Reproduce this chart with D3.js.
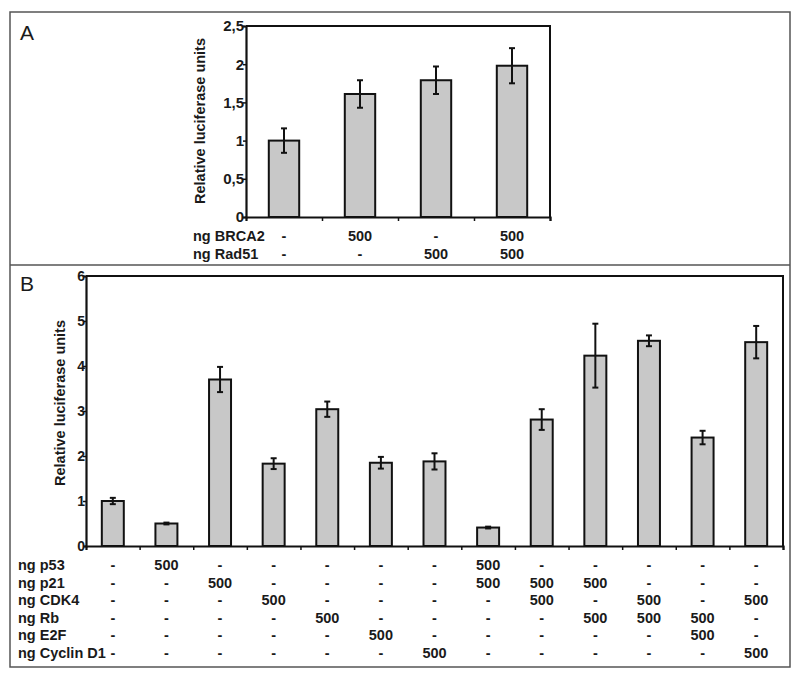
<!DOCTYPE html>
<html><head><meta charset="utf-8">
<script src="https://cdn.jsdelivr.net/npm/d3@7"></script>
<style>body{margin:0;background:#fff}svg{display:block}text{font-family:"Liberation Sans",Arial,sans-serif;fill:#1a1a1a}</style>
</head><body><svg id="c" width="800" height="677"></svg>
<script>
// Panel A data
const catsA = ["c1","c2","c3","c4"];
const valuesA = [1.00, 1.61, 1.79, 1.98];
const errA = [0.16, 0.18, 0.18, 0.23];
const ticksA = [0, 0.5, 1, 1.5, 2, 2.5];
const tickLabelsA = ["0","0,5","1","1,5","2","2,5"];
const rowLabelsA = ["ng BRCA2","ng Rad51"];
const brca2 = ["-","500","-","500"];
const rad51 = ["-","-","500","500"];

// Panel B data
const catsB = ["b1","b2","b3","b4","b5","b6","b7","b8","b9","b10","b11","b12","b13"];
const valuesB = [1.00, 0.50, 3.70, 1.83, 3.04, 1.85, 1.88, 0.41, 2.81, 4.23, 4.56, 2.41, 4.53];
const errB = [0.07, 0.02, 0.28, 0.12, 0.17, 0.13, 0.18, 0.02, 0.23, 0.71, 0.12, 0.15, 0.36];
const ticksB = [0,1,2,3,4,5,6];
const rowLabelsB = ["ng p53","ng p21","ng CDK4","ng Rb","ng E2F","ng Cyclin D1"];
const p53 = ["-","500","-","-","-","-","-","500","-","-","-","-","-"];
const p21 = ["-","-","500","-","-","-","-","500","500","500","-","-","-"];
const cdk4 = ["-","-","-","500","-","-","-","-","500","-","500","-","500"];
const rb = ["-","-","-","-","500","-","-","-","-","500","500","500","-"];
const e2f = ["-","-","-","-","-","500","-","-","-","-","-","500","-"];
const cyclinD1 = ["-","-","-","-","-","-","500","-","-","-","-","-","500"];

const svg = d3.select("#c");
svg.append("rect").attr("width",800).attr("height",677).attr("fill","#fff");

// outer frames
svg.append("rect").attr("x",10).attr("y",12).attr("width",780).attr("height",655)
  .attr("fill","none").attr("stroke","#555").attr("stroke-width",1.5);
svg.append("line").attr("x1",10).attr("x2",790).attr("y1",265).attr("y2",265)
  .attr("stroke","#555").attr("stroke-width",1.5);

svg.append("text").attr("x",20).attr("y",40).attr("font-size",21).text("A");
svg.append("text").attr("x",20).attr("y",291).attr("font-size",21).text("B");

function panel(o){
  const g = svg.append("g");
  const x = d3.scaleBand().domain(o.cats).range([o.x0,o.x1]).padding(0);
  const y = d3.scaleLinear().domain([0,o.ymax]).range([o.y0,o.y1]);
  // frame top/right
  g.append("path").attr("d",`M${o.x0},${o.y1}H${o.x1}V${o.y0}`).attr("fill","none")
    .attr("stroke","#111").attr("stroke-width",2);
  // y axis
  const ya = d3.axisLeft(y).tickValues(o.ticks).tickSize(3).tickFormat((d,i)=>o.tickLabels[i]);
  const yg = g.append("g").attr("transform",`translate(${o.x0},0)`).call(ya);
  yg.select(".domain").attr("stroke","#111").attr("stroke-width",2.2);
  yg.selectAll(".tick line").attr("stroke","#111").attr("stroke-width",1.5);
  yg.selectAll(".tick text").attr("font-size",o.tickFont).attr("font-weight","bold")
    .attr("font-family","Liberation Sans, Arial, sans-serif").attr("fill","#1a1a1a").attr("x",o.tickDx);
  // x axis with ticks at bin boundaries
  const xb = d3.scaleLinear().domain([0,o.cats.length]).range([o.x0,o.x1]);
  const xa = d3.axisBottom(xb).tickValues(d3.range(1,o.cats.length+1)).tickSize(4).tickFormat("");
  const xg = g.append("g").attr("transform",`translate(0,${o.y0})`).call(xa);
  xg.select(".domain").attr("stroke","#111").attr("stroke-width",2.2);
  xg.selectAll(".tick line").attr("stroke","#111").attr("stroke-width",1.5);
  // bars
  const bw = x.bandwidth()*o.barFrac;
  g.selectAll("rect.bar").data(o.values).join("rect").attr("class","bar")
    .attr("x",(d,i)=>x(o.cats[i])+(x.bandwidth()-bw)/2)
    .attr("y",d=>y(d)).attr("width",bw).attr("height",d=>y(0)-y(d))
    .attr("fill","#c8c8c8").attr("stroke","#111").attr("stroke-width",2);
  // error bars
  const eg = g.selectAll("g.err").data(o.values).join("g").attr("class","err");
  eg.append("line").attr("x1",(d,i)=>x(o.cats[i])+x.bandwidth()/2).attr("x2",(d,i)=>x(o.cats[i])+x.bandwidth()/2)
    .attr("y1",(d,i)=>y(d+o.err[i])).attr("y2",(d,i)=>y(d-o.err[i])).attr("stroke","#111").attr("stroke-width",2);
  [1,-1].forEach(s=>{
    eg.append("line").attr("x1",(d,i)=>x(o.cats[i])+x.bandwidth()/2-3).attr("x2",(d,i)=>x(o.cats[i])+x.bandwidth()/2+3)
      .attr("y1",(d,i)=>y(d+s*o.err[i])).attr("y2",(d,i)=>y(d+s*o.err[i])).attr("stroke","#111").attr("stroke-width",2);
  });
  // y label
  g.append("text").attr("transform",`translate(${o.ylx},${o.yly}) rotate(-90)`)
    .attr("text-anchor","middle").attr("dominant-baseline","central")
    .attr("font-size",14.5).attr("font-weight","bold").text("Relative luciferase units");
  // table
  o.rows.forEach((row,ri)=>{
    const ry = o.rowY0 + ri*o.rowStep;
    g.append("text").attr("x",o.rowLabelX).attr("y",ry).attr("dominant-baseline","central")
      .attr("font-size",14.5).attr("font-weight","bold").text(o.rowLabels[ri]);
    row.forEach((v,ci)=>{
      g.append("text").attr("x",x(o.cats[ci])+x.bandwidth()/2).attr("y",ry)
        .attr("text-anchor","middle").attr("dominant-baseline","central")
        .attr("font-size",14.5).attr("font-weight","bold").text(v);
    });
  });
}

panel({cats:catsA, values:valuesA, err:errA, ticks:ticksA, tickLabels:tickLabelsA, ymax:2.5,
  x0:246, x1:550, y0:217, y1:26, barFrac:0.4, tickFont:15, tickDx:-2, ylx:200, yly:121,
  rows:[brca2,rad51], rowLabels:rowLabelsA, rowY0:236, rowStep:18, rowLabelX:193});

panel({cats:catsB, values:valuesB, err:errB, ticks:ticksB, tickLabels:ticksB.map(String), ymax:6,
  x0:86, x1:783, y0:546, y1:276, barFrac:0.41, tickFont:14, tickDx:-1, ylx:60, yly:403,
  rows:[p53,p21,cdk4,rb,e2f,cyclinD1], rowLabels:rowLabelsB, rowY0:565, rowStep:17.6, rowLabelX:18});
</script></body></html>
